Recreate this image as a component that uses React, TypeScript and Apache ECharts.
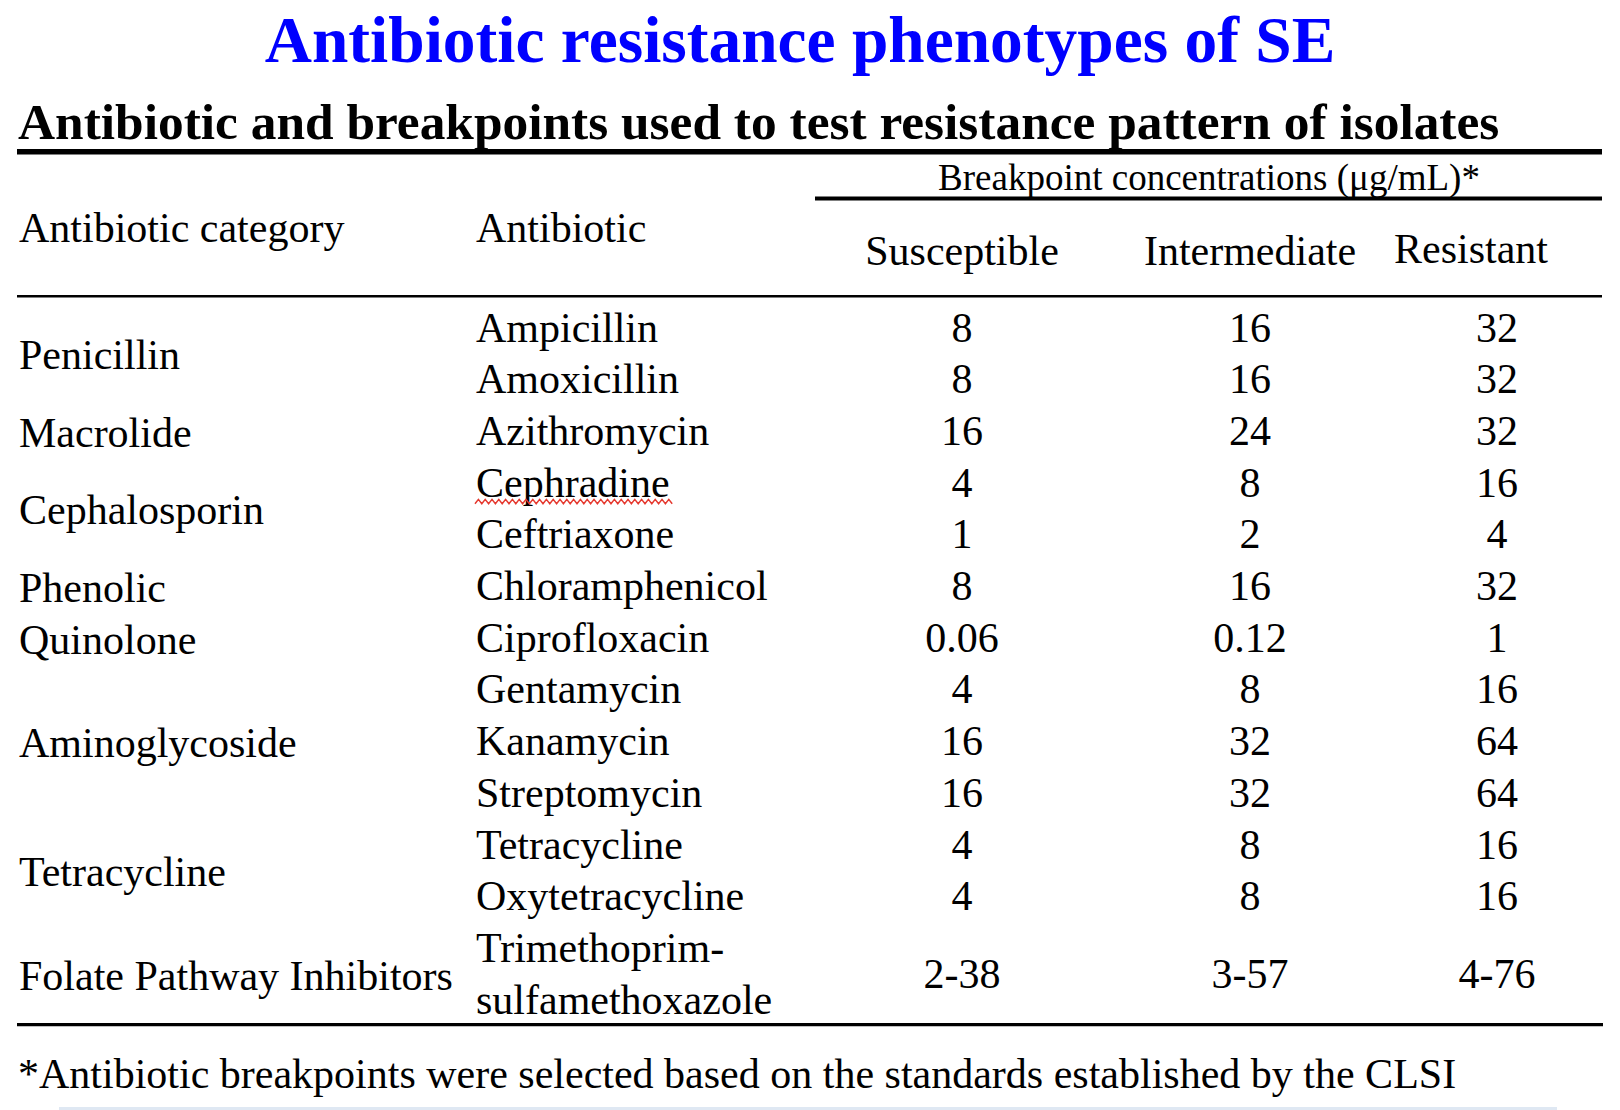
import React, { useEffect, useRef } from "react";
import * as echarts from "echarts";

const titleText = "Antibiotic resistance phenotypes of SE";
const subtitleText = "Antibiotic and breakpoints used to test resistance pattern of isolates";
const groupHeader = "Breakpoint concentrations (μg/mL)*";
const columnHeaders = ["Antibiotic category", "Antibiotic", "Susceptible", "Intermediate", "Resistant"];
const footnoteText = "*Antibiotic breakpoints were selected based on the standards established by the CLSI";

const categoryNames = [
  "Penicillin",
  "Macrolide",
  "Cephalosporin",
  "Phenolic",
  "Quinolone",
  "Aminoglycoside",
  "Tetracycline",
  "Folate Pathway Inhibitors",
];
const categoryRowCounts = [2, 1, 2, 1, 1, 3, 2, 1];

const antibiotics = [
  "Ampicillin",
  "Amoxicillin",
  "Azithromycin",
  "Cephradine",
  "Ceftriaxone",
  "Chloramphenicol",
  "Ciprofloxacin",
  "Gentamycin",
  "Kanamycin",
  "Streptomycin",
  "Tetracycline",
  "Oxytetracycline",
  "Trimethoprim-\nsulfamethoxazole",
];
const susceptible = ["8", "8", "16", "4", "1", "8", "0.06", "4", "16", "16", "4", "4", "2-38"];
const intermediate = ["16", "16", "24", "8", "2", "16", "0.12", "8", "32", "32", "8", "8", "3-57"];
const resistant = ["32", "32", "32", "16", "4", "32", "1", "16", "64", "64", "16", "16", "4-76"];
const misspelled = ["Cephradine"];

const FONT = '"Liberation Serif", "Times New Roman", Times, serif';

export default function App() {
  const ref = useRef<HTMLDivElement>(null);

  useEffect(() => {
    document.body.style.margin = "0";
    if (!ref.current) return;
    const chart = echarts.init(ref.current, undefined, { renderer: "svg" });

    const rowY0 = 327.5;
    const rowStep = 51.7;
    const rowHeights = antibiotics.map((a) => a.split("\n").length);
    const rowCenters: number[] = [];
    let acc = 0;
    rowHeights.forEach((h) => {
      rowCenters.push(rowY0 + (acc + (h - 1) / 2) * rowStep);
      acc += h;
    });

    const colX = { cat: 19, abx: 476, s: 962, i: 1250, r: 1497, rHead: 1471 };
    const bodyFont = `42px ${FONT}`;
    const els: any[] = [];

    const txt = (text: string, x: number, y: number, font: string, align: string, fill = "#000", lh?: number) => {
      els.push({
        type: "text",
        silent: true,
        style: {
          text,
          x,
          y,
          font,
          fill,
          textAlign: align,
          textVerticalAlign: "middle",
          lineHeight: lh,
        },
      });
    };
    const rect = (x: number, y: number, w: number, h: number, fill: string) => {
      els.push({ type: "rect", silent: true, shape: { x, y, width: w, height: h }, style: { fill } });
    };

    // title & subtitle
    txt(titleText, 800, 40, `bold 65.4px ${FONT}`, "center", "#0000ff");
    txt(subtitleText, 18, 121, `bold 51.4px ${FONT}`, "left");

    // rules
    rect(17, 149, 1585, 5.5, "#000");
    rect(815, 196.5, 787, 4, "#000");
    rect(17, 295, 1585, 2.4, "#000");
    rect(17, 1023, 1586, 3.2, "#000");
    rect(59, 1107, 1498, 3, "#dfe8f3");

    // headers
    txt(groupHeader, 1209, 177, `37px ${FONT}`, "center");
    txt(columnHeaders[0], colX.cat, 228, bodyFont, "left");
    txt(columnHeaders[1], colX.abx, 228, bodyFont, "left");
    txt(columnHeaders[2], colX.s, 251, bodyFont, "center");
    txt(columnHeaders[3], colX.i, 251, bodyFont, "center");
    txt(columnHeaders[4], colX.rHead, 249, bodyFont, "center");

    // categories
    let start = 0;
    categoryNames.forEach((name, k) => {
      const n = categoryRowCounts[k];
      const y = (rowCenters[start] + rowCenters[start + n - 1]) / 2 + 2;
      txt(name, colX.cat, y, bodyFont, "left");
      start += n;
    });

    // body rows
    antibiotics.forEach((a, i) => {
      const y = rowCenters[i];
      txt(a, colX.abx, y, bodyFont, "left", "#000", rowStep);
      txt(susceptible[i], colX.s, y, bodyFont, "center");
      txt(intermediate[i], colX.i, y, bodyFont, "center");
      txt(resistant[i], colX.r, y, bodyFont, "center");
      if (misspelled.includes(a)) {
        const pts: number[][] = [];
        const x0 = colX.abx - 1;
        const x1 = colX.abx + 199;
        const yy = y + 19;
        let up = false;
        for (let x = x0; x <= x1; x += 3.4) {
          pts.push([x, up ? yy - 2.2 : yy + 2.2]);
          up = !up;
        }
        els.push({
          type: "polyline",
          silent: true,
          shape: { points: pts },
          style: { stroke: "#e5392f", lineWidth: 1.5, fill: null },
        });
      }
    });

    // footnote
    txt(footnoteText, 18, 1074, bodyFont, "left");

    chart.setOption({
      animation: false,
      backgroundColor: "#ffffff",
      graphic: { elements: els },
    });

    return () => chart.dispose();
  }, []);

  return <div ref={ref} style={{ width: 1620, height: 1110 }} />;
}
